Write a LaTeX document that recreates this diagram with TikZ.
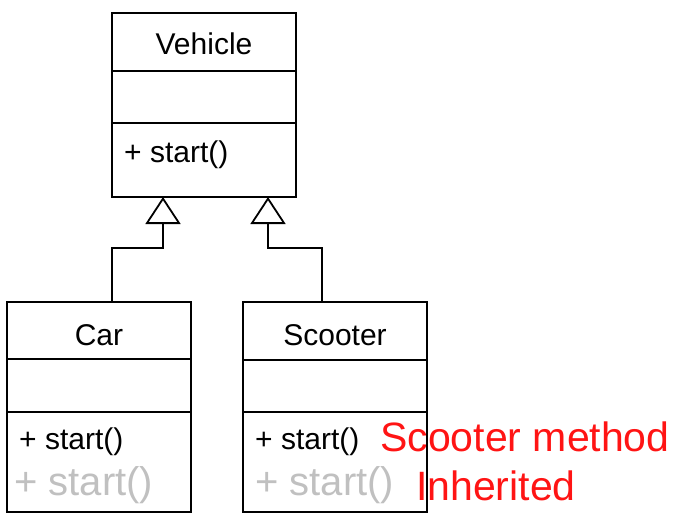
\documentclass[tikz,border=0pt]{standalone}
\usepackage{fontspec}
\setmainfont{Liberation Sans}
\usetikzlibrary{arrows.meta}
\begin{document}
\begin{tikzpicture}[x=1pt,y=-1pt,
  classbox/.style={draw, line width=1.8pt, outer sep=0pt, inner sep=0pt, minimum width=184pt, anchor=north west},
  divider/.style={line width=1.8pt},
  lbl/.style={inner sep=0pt, font=\fontsize{30}{36}\selectfont},
  ghost/.style={inner sep=0pt, font=\fontsize{40}{48}\selectfont, text={rgb,255:red,192;green,192;blue,192}},
  note/.style={inner sep=0pt, font=\fontsize{41}{49}\selectfont, text={rgb,255:red,255;green,20;blue,20}},
  inh/.style={line width=1.8pt, -{Triangle[open, length=27pt, width=35pt, line width=1.8pt]}}]
\useasboundingbox (0,0) rectangle (684,519);

% red annotations (drawn first so the box border lies over them)
\node[note, anchor=base west] (n1) at (380,451) {Scooter method};
\node[note, anchor=base west] (n2) at (416,500) {Inherited};

% Vehicle
\node[classbox, minimum height=184pt] (vehicle) at (112,13) {};
\draw[divider] (vehicle.west |- 0,71) -- (vehicle.east |- 0,71);
\draw[divider] (vehicle.west |- 0,123) -- (vehicle.east |- 0,123);
\node[lbl, anchor=base] (vname) at (204,55) {Vehicle};
\node[lbl, anchor=base west] (vm) at (124,162) {+ start()};

% Car
\node[classbox, minimum height=210pt] (car) at (7,302) {};
\draw[divider] (car.west |- 0,359) -- (car.east |- 0,359);
\draw[divider] (car.west |- 0,412) -- (car.east |- 0,412);
\node[lbl, anchor=base] (cname) at (99,345) {Car};
\node[lbl, anchor=base west] (cm) at (19,449) {+ start()};
\node[ghost, anchor=base west] (cg) at (14,495) {+ start()};

% Scooter
\node[classbox, minimum height=210pt] (scooter) at (243,302) {};
\draw[divider] (scooter.west |- 0,360) -- (scooter.east |- 0,360);
\draw[divider] (scooter.west |- 0,412) -- (scooter.east |- 0,412);
\node[lbl, anchor=base] (sname) at (335,345) {Scooter};
\node[lbl, anchor=base west] (sm) at (255,449) {+ start()};
\node[ghost, anchor=base west] (sg) at (255,495) {+ start()};

% generalization connectors
\coordinate (carTop) at (112,302);
\coordinate (scoTop) at (322,302);
\coordinate (vehL) at (163,197);
\coordinate (vehR) at (268,197);
\draw[inh] (carTop) |- (vehL |- 0,248) -- (vehL);
\draw[inh] (scoTop) |- (vehR |- 0,248) -- (vehR);
\end{tikzpicture}
\end{document}
